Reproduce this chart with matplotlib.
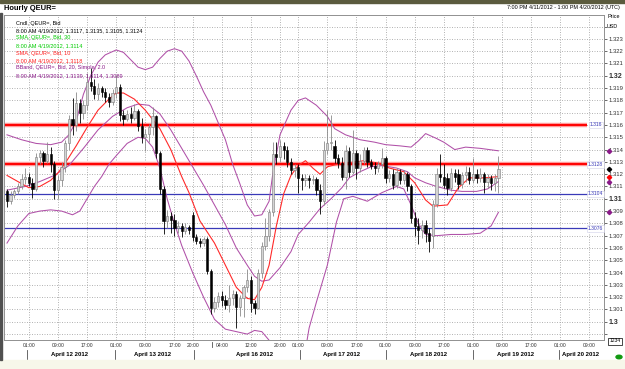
import numpy as np
import matplotlib
matplotlib.use("Agg")
import matplotlib.pyplot as plt
from matplotlib.patches import Rectangle

plt.rcParams['font.family'] = ['Liberation Sans', 'DejaVu Sans']

# --- data: hourly bars from 7:00 PM 4/11/2012 (weekend hours skipped) ---
opens = [1.3106, 1.3098, 1.3103, 1.3106, 1.3110, 1.3116, 1.3118, 1.3113, 1.3108, 1.3134,
         1.3137, 1.3131, 1.3136, 1.3128, 1.3107, 1.3115, 1.3126, 1.3145, 1.3165, 1.3160,
         1.3178, 1.3170, 1.3176, 1.3195, 1.3192, 1.3185, 1.3190, 1.3187, 1.3183, 1.3179,
         1.3186, 1.3191, 1.3168, 1.3165, 1.3169, 1.3166, 1.3171, 1.3159, 1.3150, 1.3153,
         1.3158, 1.3167, 1.3137, 1.3108, 1.3082, 1.3086, 1.3083, 1.3076, 1.3078, 1.3074,
         1.3077, 1.3087, 1.3069, 1.3066, 1.3064, 1.3067, 1.3041, 1.3011, 1.3016, 1.3021,
         1.3018, 1.3014, 1.3019, 1.3023, 1.3012, 1.3019, 1.3028, 1.3034, 1.3015, 1.3011,
         1.3040, 1.3062, 1.3070, 1.3089, 1.3136, 1.3134, 1.3143, 1.3140, 1.3130, 1.3123,
         1.3126, 1.3117, 1.3115, 1.3117, 1.3115, 1.3116, 1.3107, 1.3098, 1.3140, 1.3145,
         1.3143, 1.3133, 1.3129, 1.3118, 1.3139, 1.3122, 1.3137, 1.3125, 1.3131, 1.3140,
         1.3130, 1.3127, 1.3125, 1.3128, 1.3133, 1.3117, 1.3120, 1.3111, 1.3122, 1.3115,
         1.3120, 1.3110, 1.3084, 1.3078, 1.3075, 1.3079, 1.3072, 1.3070, 1.3096, 1.3120,
         1.3118, 1.3117, 1.3109, 1.3121, 1.3120, 1.3112, 1.3119, 1.3122, 1.3115, 1.3120,
         1.3117, 1.3120, 1.3114, 1.3117, 1.3113, 1.3117]
closes = [1.3098, 1.3103, 1.3106, 1.3110, 1.3116, 1.3118, 1.3113, 1.3108, 1.3134, 1.3137,
          1.3131, 1.3136, 1.3128, 1.3107, 1.3115, 1.3126, 1.3145, 1.3165, 1.3160, 1.3178,
          1.3170, 1.3176, 1.3195, 1.3192, 1.3185, 1.3190, 1.3187, 1.3183, 1.3179, 1.3186,
          1.3191, 1.3168, 1.3165, 1.3169, 1.3166, 1.3171, 1.3159, 1.3150, 1.3153, 1.3158,
          1.3167, 1.3137, 1.3108, 1.3082, 1.3086, 1.3083, 1.3076, 1.3078, 1.3074, 1.3077,
          1.3075, 1.3069, 1.3066, 1.3064, 1.3067, 1.3041, 1.3011, 1.3016, 1.3021, 1.3018,
          1.3014, 1.3019, 1.3023, 1.3012, 1.3019, 1.3028, 1.3034, 1.3015, 1.3011, 1.3040,
          1.3062, 1.3070, 1.3089, 1.3136, 1.3134, 1.3143, 1.3140, 1.3130, 1.3123, 1.3125,
          1.3117, 1.3115, 1.3117, 1.3115, 1.3116, 1.3107, 1.3098, 1.3140, 1.3145, 1.3146,
          1.3133, 1.3129, 1.3118, 1.3139, 1.3122, 1.3137, 1.3125, 1.3131, 1.3140, 1.3130,
          1.3127, 1.3125, 1.3128, 1.3133, 1.3117, 1.3120, 1.3111, 1.3122, 1.3115, 1.3120,
          1.3110, 1.3084, 1.3078, 1.3075, 1.3079, 1.3072, 1.3066, 1.3096, 1.3120, 1.3118,
          1.3111, 1.3109, 1.3121, 1.3118, 1.3112, 1.3119, 1.3122, 1.3115, 1.3120, 1.3117,
          1.3120, 1.3114, 1.3117, 1.3113, 1.3117, 1.3124]
highs = [1.3108, 1.3106, 1.3108, 1.3113, 1.3120, 1.3125, 1.3121, 1.3117, 1.3137, 1.3140,
         1.3139, 1.3146, 1.3142, 1.3131, 1.3119, 1.3130, 1.3148, 1.3168, 1.3182, 1.3187,
         1.3181, 1.3180, 1.3202, 1.3206, 1.3197, 1.3194, 1.3192, 1.3190, 1.3186, 1.3189,
         1.3201, 1.3193, 1.3172, 1.3172, 1.3175, 1.3177, 1.3173, 1.3166, 1.3157, 1.3161,
         1.3175, 1.3168, 1.3139, 1.3110, 1.3091, 1.3089, 1.3088, 1.3082, 1.3080, 1.3080,
         1.3079, 1.3089, 1.3071, 1.3068, 1.3069, 1.3069, 1.3043, 1.3020, 1.3024, 1.3025,
         1.3022, 1.3030, 1.3026, 1.3025, 1.3022, 1.3030, 1.3043, 1.3037, 1.3018, 1.3043,
         1.3065, 1.3084, 1.3092, 1.3146, 1.3146, 1.3148, 1.3146, 1.3143, 1.3133, 1.3128,
         1.3128, 1.3120, 1.3120, 1.3119, 1.3119, 1.3118, 1.3112, 1.3147, 1.3172, 1.3168,
         1.3148, 1.3136, 1.3134, 1.3144, 1.3142, 1.3156, 1.3140, 1.3136, 1.3142, 1.3142,
         1.3132, 1.3130, 1.3131, 1.3141, 1.3135, 1.3123, 1.3124, 1.3125, 1.3124, 1.3123,
         1.3122, 1.3112, 1.3089, 1.3084, 1.3083, 1.3083, 1.3076, 1.3099, 1.3125, 1.3136,
         1.3128, 1.3121, 1.3125, 1.3124, 1.3124, 1.3122, 1.3127, 1.3126, 1.3133, 1.3124,
         1.3125, 1.3122, 1.3120, 1.3119, 1.3120, 1.3135]
lows = [1.3093, 1.3096, 1.3101, 1.3104, 1.3108, 1.3112, 1.3110, 1.3101, 1.3106, 1.3128,
        1.3126, 1.3129, 1.3122, 1.3100, 1.3100, 1.3110, 1.3122, 1.3140, 1.3152, 1.3155,
        1.3162, 1.3165, 1.3172, 1.3188, 1.3181, 1.3180, 1.3183, 1.3179, 1.3175, 1.3176,
        1.3182, 1.3163, 1.3160, 1.3163, 1.3162, 1.3164, 1.3155, 1.3145, 1.3139, 1.3146,
        1.3152, 1.3133, 1.3104, 1.3071, 1.3076, 1.3072, 1.3070, 1.3072, 1.3069, 1.3071,
        1.3071, 1.3066, 1.3063, 1.3061, 1.3062, 1.3039, 1.3006, 1.3008, 1.3012, 1.3013,
        1.3010, 1.3008, 1.3014, 1.2995, 1.3005, 1.3004, 1.3024, 1.3008, 1.3006, 1.3010,
        1.3036, 1.3058, 1.3066, 1.3086, 1.3128, 1.3130, 1.3132, 1.3126, 1.3120, 1.3118,
        1.3105, 1.3107, 1.3110, 1.3109, 1.3112, 1.3103, 1.3088, 1.3095, 1.3136, 1.3140,
        1.3129, 1.3125, 1.3115, 1.3108, 1.3118, 1.3120, 1.3116, 1.3122, 1.3128, 1.3126,
        1.3124, 1.3120, 1.3122, 1.3125, 1.3113, 1.3114, 1.3108, 1.3109, 1.3112, 1.3112,
        1.3106, 1.3080, 1.3070, 1.3063, 1.3068, 1.3065, 1.3057, 1.3060, 1.3093, 1.3114,
        1.3109, 1.3103, 1.3106, 1.3114, 1.3108, 1.3109, 1.3114, 1.3112, 1.3113, 1.3113,
        1.3114, 1.3105, 1.3109, 1.3107, 1.3106, 1.3105]

# indicator lines (bar index, price)
sma10_bars = [0, 3, 6, 9, 12, 14, 16, 19, 22, 25, 28, 30, 32, 35, 38, 42, 45, 48, 50, 53,
              57, 60, 63, 66, 68, 70, 72, 74, 76, 78, 80, 82, 84, 86, 88, 92, 96, 98, 102,
              105, 109, 112, 115, 117, 121, 124, 127, 131, 135]
sma10_vals = [1.3119, 1.3114, 1.3109, 1.3110, 1.3115, 1.3121, 1.3129, 1.3143, 1.3158, 1.3172,
              1.3181, 1.3186, 1.3186, 1.3181, 1.3172, 1.3157, 1.3140, 1.3118, 1.3105, 1.3082,
              1.3064, 1.3046, 1.3028, 1.3019, 1.3018, 1.3028, 1.3046, 1.3078, 1.3104, 1.3119,
              1.3127, 1.3131, 1.3125, 1.3120, 1.3126, 1.3129, 1.3130, 1.3131, 1.3129, 1.3125,
              1.3122, 1.3113, 1.3099, 1.3094, 1.3095, 1.3109, 1.3117, 1.3117, 1.3118]

bb_up_bars = [0, 4, 8, 12, 15, 17, 19, 21, 23, 25, 27, 30, 32, 34, 36, 38, 40, 42, 44, 46,
              48, 50, 52, 54, 56, 58, 60, 62, 64, 66, 68, 70, 72, 73, 75, 78, 80, 82, 85,
              88, 90, 93, 97, 101, 104, 108, 111, 113, 115, 118, 120, 123, 126, 130, 135]
bb_up_vals = [1.3152, 1.3148, 1.3145, 1.3144, 1.3146, 1.3152, 1.3163, 1.3185, 1.3200, 1.3211,
              1.3217, 1.3221, 1.3219, 1.3213, 1.3207, 1.3205, 1.3207, 1.3214, 1.3220, 1.3222,
              1.3220, 1.3212, 1.3200, 1.3187, 1.3176, 1.3162, 1.3148, 1.3128, 1.3112, 1.3095,
              1.3086, 1.3087, 1.3098, 1.3120, 1.3152, 1.3172, 1.3180, 1.3182, 1.3176, 1.3167,
              1.3157, 1.3152, 1.3148, 1.3146, 1.3144, 1.3143, 1.3142, 1.3147, 1.3153, 1.3149,
              1.3146, 1.3140, 1.3142, 1.3141, 1.3139]

bb_mid_bars = [0, 5, 9, 13, 17, 21, 25, 29, 33, 36, 39, 42, 45, 48, 51, 54, 57, 60, 63, 66,
               68, 70, 72, 75, 78, 80, 83, 86, 89, 92, 94, 97, 100, 103, 107, 110, 112, 115,
               118, 122, 125, 129, 132, 135]
bb_mid_vals = [1.3107, 1.3110, 1.3114, 1.3119, 1.3127, 1.3141, 1.3156, 1.3167, 1.3174, 1.3177,
               1.3176, 1.3169, 1.3156, 1.3141, 1.3126, 1.3111, 1.3095, 1.3079, 1.3060, 1.3046,
               1.3037, 1.3033, 1.3034, 1.3044, 1.3057, 1.3071, 1.3081, 1.3092, 1.3100, 1.3109,
               1.3117, 1.3122, 1.3126, 1.3127, 1.3125, 1.3122, 1.3117, 1.3113, 1.3110, 1.3107,
               1.3106, 1.3106, 1.3108, 1.3114]

bb_low_bars = [0, 3, 6, 9, 12, 15, 18, 20, 22, 24, 26, 28, 30, 33, 36, 38, 40, 42, 44, 46,
               48, 51, 54, 57, 60, 63, 66, 68, 70, 72, 74, 81, 83, 85, 88, 90.5, 92.5, 95, 99,
               103, 107, 109, 111, 113, 115, 118, 122, 126, 130, 133, 135]
bb_low_vals = [1.3064, 1.3078, 1.3088, 1.3090, 1.3091, 1.3090, 1.3087, 1.3090, 1.3100, 1.3110,
               1.3118, 1.3128, 1.3135, 1.3145, 1.3150, 1.3149, 1.3142, 1.3125, 1.3100, 1.3080,
               1.3062, 1.3040, 1.3020, 1.3002, 1.2994, 1.2992, 1.2990, 1.2993, 1.2992, 1.2985,
               1.2960, 1.2960, 1.2995, 1.3016, 1.3046, 1.3081, 1.3100, 1.3102, 1.3098, 1.3105,
               1.3110, 1.3108, 1.3095, 1.3080, 1.3071, 1.3070, 1.3071, 1.3071, 1.3072, 1.3078,
               1.3089]

levels = [1.316, 1.3128, 1.3104, 1.3076]
level_labels = ['1.316', '1.3128', '1.3104', '1.3076']

time_ticks = [6, 14, 22, 30, 38, 46, 51, 59, 67, 75, 80, 88, 96, 104, 112, 120, 128, 136, 144, 152, 160]
time_labels = ['01:00', '09:00', '17:00', '01:00', '09:00', '17:00', '20:00', '04:00', '12:00', '20:00',
               '01:00', '09:00', '17:00', '01:00', '09:00', '17:00', '01:00', '09:00', '17:00', '01:00', '09:00']
day_names = ['April 12 2012', 'April 13 2012', 'April 16 2012', 'April 17 2012',
             'April 18 2012', 'April 19 2012', 'April 20 2012']
day_centers = [17.3, 40.1, 68.1, 92.0, 115.9, 139.8, 152.5]
day_seps = [5.5, 29.7, 51.4, 80.5, 104.1, 128.0, 151.6]

price_ticks = [round(1.299 + 0.001 * k, 3) for k in range(26)]

# --- figure ---
W, H = 625, 369
fig = plt.figure(figsize=(W / 100, H / 100), dpi=100)
fig.patch.set_facecolor('white')
# window chrome
fig.patches.append(Rectangle((0, 1 - 3 / H), 1, 3 / H, transform=fig.transFigure, color='#5b5b3e'))
fig.patches.append(Rectangle((0, 0), 1, 9 / H, transform=fig.transFigure, color='#f7f7ea'))
fig.patches.append(Rectangle((0, 9 / H), 2 / W, 1 - 22 / H, transform=fig.transFigure, color='#505050'))

ax = fig.add_axes([4 / W, 1 - 340 / H, 600 / W, 325 / H])
ax.set_xlim(-0.82, 164.0)
ax.set_ylim(1.29852, 1.32494)

# grid
ax.set_yticks(price_ticks)
ax.set_xticks(time_ticks)
ax.grid(True, color='#a8a8a8', lw=0.6, linestyle=(0, (1.2, 1.8)))
ax.set_axisbelow(True)

ax.yaxis.tick_right()
ylabels = []
for v in price_ticks:
    s = f"{v:.3f}".rstrip('0')
    ylabels.append(s if 1.2995 < v < 1.3235 else '')
ax.set_yticklabels(ylabels, fontsize=4.2)
for lab, v in zip(ax.get_yticklabels(), price_ticks):
    if abs(v * 100 - round(v * 100)) < 1e-6:
        lab.set_fontweight('bold')
        lab.set_fontsize(5)
ax.tick_params(axis='y', length=2, width=0.5, pad=1, colors='#303030')
ax.set_xticklabels(time_labels, fontsize=3.6)
ax.tick_params(axis='x', length=0, pad=2.5, colors='#303030')
for sp in ax.spines.values():
    sp.set_color('#909090')
    sp.set_linewidth(0.7)

# level lines
for lv, lab in zip(levels, level_labels):
    if lv > 1.312:
        ax.plot([-0.82, 159.3], [lv, lv], color='#ff9a9a', lw=3.2, solid_capstyle='butt', zorder=2)
        ax.plot([-0.82, 159.3], [lv, lv], color='#ff0000', lw=1.4, solid_capstyle='butt', zorder=2)
    else:
        ax.plot([-0.82, 159.3], [lv, lv], color='#3a3ab8', lw=0.9, zorder=2)
    ax.text(161.7, lv, lab, fontsize=3.6, color='#3a3ab8', ha='center', va='center', zorder=6,
            bbox=dict(boxstyle='square,pad=0.15', fc='white', ec='#d0d0e8', lw=0.4))

# indicators
band_col = '#b050a8'
ax.plot(bb_up_bars, bb_up_vals, color=band_col, lw=0.75, zorder=3)
ax.plot(bb_mid_bars, bb_mid_vals, color=band_col, lw=0.75, zorder=3)
ax.plot(bb_low_bars, bb_low_vals, color=band_col, lw=0.75, zorder=3)
ax.plot(sma10_bars, sma10_vals, color='#ff2a2a', lw=0.8, zorder=3)

# candles
o = np.array(opens)
c = np.array(closes)
hi = np.array(highs)
lo = np.array(lows)
x = np.arange(len(o))
up = c >= o
ax.vlines(x[up], lo[up], hi[up], color='#8a8a8a', lw=0.6, zorder=4)
ax.vlines(x[~up], lo[~up], hi[~up], color='black', lw=0.6, zorder=4)
body = np.maximum(np.abs(c - o), 0.00004)
ax.bar(x[up], body[up], bottom=o[up], width=0.62, color='#d4d4d4', edgecolor='#7a7a7a', lw=0.4, zorder=5)
ax.bar(x[~up], body[~up], bottom=c[~up], width=0.62, color='black', edgecolor='black', lw=0.4, zorder=5)

# last-value markers on the price axis
tr = ax.get_yaxis_transform()
for val, col in [(bb_up_vals[-1], '#8b1a89'), (closes[-1], 'black'), (sma10_vals[-1], '#ff0000'),
                 (bb_mid_vals[-1], '#8b1a89'), (bb_low_vals[-1], '#8b1a89')]:
    ax.plot([1.008], [val], marker='D', ms=2.2, color=col, transform=tr, clip_on=False, zorder=7)

# date row
xt = ax.get_xaxis_transform()
for name, pos in zip(day_names, day_centers):
    ha = 'left' if name.endswith('20 2012') else 'center'
    ax.text(pos, -0.046, name, transform=xt, ha=ha, va='center', fontsize=4.3, fontweight='bold')
for s in day_seps:
    ax.plot([s, s], [-0.030, -0.058], transform=xt, color='#505050', lw=0.6, clip_on=False)
ax.plot([56.3, 56.3], [-0.006, -0.022], transform=xt, color='#505050', lw=0.6, clip_on=False)

# legend texts
leg = [('Cndl, QEUR=, Bid', 'black'),
       ('8:00 AM 4/19/2012, 1.3117, 1.3135, 1.3105, 1.3124', 'black'),
       ('SMA, QEUR=, Bid, 30', '#00cc00'),
       ('8:00 AM 4/19/2012, 1.3114', '#00cc00'),
       ('SMA, QEUR=, Bid, 10', '#ff2020'),
       ('8:00 AM 4/19/2012, 1.3118', '#ff2020'),
       ('BBand, QEUR=, Bid, 20, Simple, 2.0', '#8b1a89'),
       ('8:00 AM 4/19/2012, 1.3139, 1.3114, 1.3089', '#8b1a89')]
for k, (t, col) in enumerate(leg):
    fig.text(16 / W, 1 - (23 + 7.5 * k) / H, t, fontsize=4.0, color=col, va='center', ha='left')

fig.text(4 / W, 1 - 8 / H, 'Hourly QEUR=', fontsize=5.4, fontweight='bold', va='center')
fig.text(620 / W, 1 - 7.5 / H, '7:00 PM 4/11/2012 - 1:00 PM 4/20/2012 (UTC)', fontsize=3.9,
         ha='right', va='center')
fig.text(607 / W, 1 - 17 / H, 'Price', fontsize=3.9, va='center')
fig.text(607 / W, 1 - 27 / H, 'USD', fontsize=3.9, va='center')
fig.text(615 / W, 1 - 341 / H, '1234', fontsize=3.6, ha='center', va='center',
         bbox=dict(boxstyle='square,pad=0.2', fc='white', ec='black', lw=0.5))
fig.patches.append(plt.Circle((619 / W, 1 - 357 / H), 3 / W, transform=fig.transFigure, color='#119911'))

fig.savefig('out.png', dpi=100)
